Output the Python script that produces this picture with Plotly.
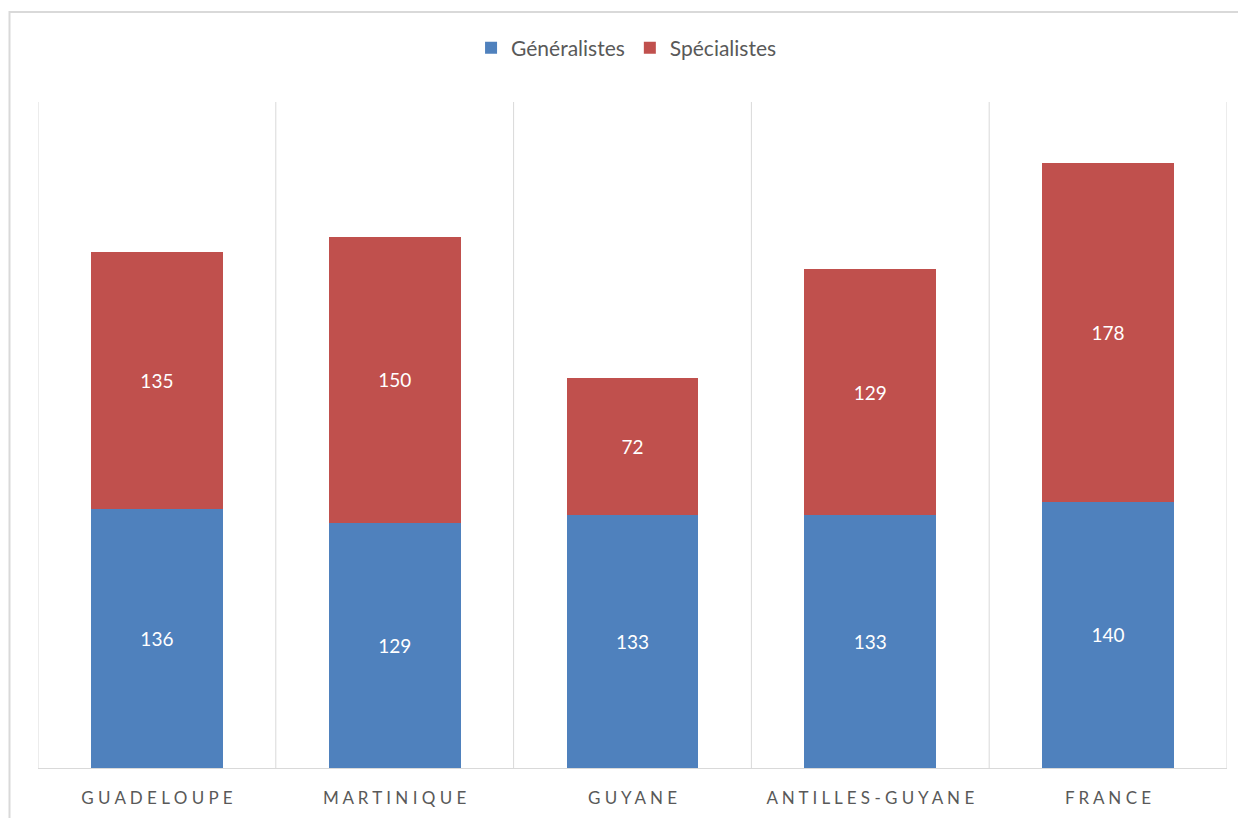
import plotly.graph_objects as go

categories = ["GUADELOUPE", "MARTINIQUE", "GUYANE", "ANTILLES-GUYANE", "FRANCE"]
generalistes = [136, 129, 133, 133, 140]
specialistes = [135, 150, 72, 129, 178]

def spaced(s):
    return " ".join(list(s))

tick_text = [spaced(c) for c in categories]

BLUE = "#4F81BD"
RED = "#C0504D"
GRID = "#D9D9D9"
TXT = "#595959"
FONT = "Lato, Open Sans, sans-serif"

fig = go.Figure()
fig.add_trace(go.Bar(
    x=categories, y=generalistes, name="Généralistes",
    marker=dict(color=BLUE, line=dict(width=0)),
    text=generalistes, textposition="inside", insidetextanchor="middle",
    textangle=0, textfont=dict(color="white", size=19, family=FONT),
))
fig.add_trace(go.Bar(
    x=categories, y=specialistes, name="Spécialistes",
    marker=dict(color=RED, line=dict(width=0)),
    text=specialistes, textposition="inside", insidetextanchor="middle",
    textangle=0, textfont=dict(color="white", size=19, family=FONT),
))

# page has an 8px body margin: compensate so the plot area lands at x 38..1227, y 102..768
OFF = 8
W, H = 1246 - OFF, 818 - OFF
L, R, T, B = 38 - OFF, 19, 102 - OFF, 50
pw, ph = W - L - R, H - T - B
bottom_px = H - B  # plot bottom in figure px

shapes = []
for i in range(len(categories) + 1):
    shapes.append(dict(type="line", xref="x", yref="paper", x0=i - 0.5, x1=i - 0.5,
                       y0=0, y1=1, line=dict(color=GRID, width=1), layer="below"))
# outer chart border (top at page y 12; extends past right and bottom edges)
shapes.append(dict(type="rect", xref="paper", yref="paper",
                   x0=(1.5 - L) / pw, x1=(W + 20 - L) / pw,
                   y0=-(H + 20 - bottom_px) / ph,
                   y1=(bottom_px - (12 - OFF)) / ph,
                   line=dict(color=GRID, width=2), fillcolor="rgba(0,0,0,0)"))

fig.update_layout(
    width=W, height=H,
    margin=dict(l=L, r=R, t=T, b=B, autoexpand=False),
    barmode="stack", bargap=0.445,
    plot_bgcolor="white", paper_bgcolor="white",
    font=dict(family=FONT, color=TXT),
    showlegend=True,
    legend=dict(orientation="h", x=0.495, xanchor="center",
                y=(bottom_px - (48 - OFF)) / ph, yanchor="middle",
                font=dict(size=21, color=TXT, family=FONT), traceorder="normal",
                itemwidth=30),
    xaxis=dict(tickmode="array", tickvals=categories, ticktext=tick_text,
               tickfont=dict(size=17, color=TXT, family=FONT),
               showgrid=False, showline=True, linecolor=GRID, linewidth=1,
               ticks="", ticklabelstandoff=15, range=[-0.5, 4.5], fixedrange=True,
               automargin=False),
    yaxis=dict(range=[0, 350], showgrid=False, showticklabels=False, zeroline=False,
               showline=False, fixedrange=True, automargin=False),
    shapes=shapes,
)

fig.write_html("out.html")
